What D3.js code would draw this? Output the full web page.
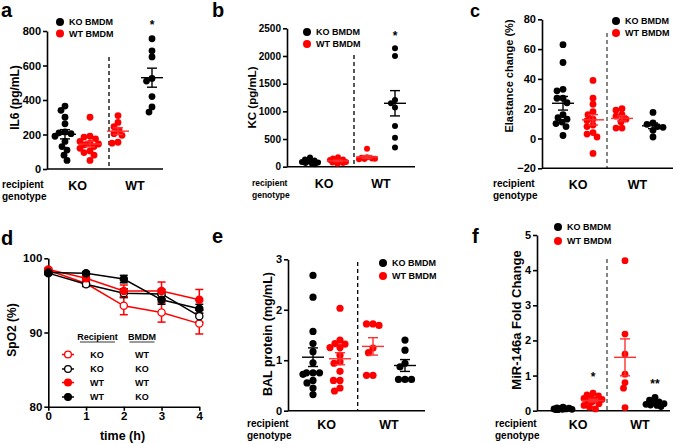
<!DOCTYPE html>
<html><head><meta charset="utf-8">
<script src="https://cdn.jsdelivr.net/npm/d3@7"></script>
<style>body{margin:0;background:#fff} svg text{font-family:"Liberation Sans",Arial,sans-serif;font-weight:bold;fill:#000}</style>
</head><body><svg id="c" width="676" height="444"></svg>
<script>
// ---------- DATA ----------
const groups = ["KO_KO", "KO_WT", "WT_WT", "WT_KO"]; // recipient_BMDM
const groupColors = ["black", "red", "red", "black"];
const recipientLabels = ["KO", "WT"];
const legendLabels = ["KO BMDM", "WT BMDM"];

// a: IL6 (pg/mL)
const il6_KO_KO = [365, 340, 300, 262, 215, 210, 205, 190, 160, 130, 110, 80, 50];
const il6_KO_WT = [300, 190, 185, 175, 160, 150, 145, 140, 130, 120, 105, 95, 80, 50];
const il6_WT_WT = [310, 270, 245, 225, 205, 195, 155, 150];
const il6_WT_KO = [755, 685, 650, 525, 510, 420, 360, 330];
const il6Ticks = [0, 200, 400, 600, 800];

// b: KC (pg/mL)
const kc_KO_KO = [165, 130, 110, 95, 85, 75, 65, 55, 45];
const kc_KO_WT = [170, 150, 130, 120, 105, 95, 85, 75, 65, 55];
const kc_WT_WT = [325, 170, 160, 150, 145, 140, 135];
const kc_WT_KO = [2140, 2000, 1205, 1145, 1070, 735, 525, 345];
const kcTicks = [0, 500, 1000, 1500, 2000, 2500];

// c: Elastance change (%)
const el_KO_KO = [63, 51, 33, 32, 27, 27, 24, 16, 14, 13, 11, 10, 8, 2];
const el_KO_WT = [39, 27, 23, 18, 16, 13, 12, 9, 8, 4, 3, 1, -10];
const el_WT_WT = [20, 19, 16, 15, 13, 11, 7, 7];
const el_WT_KO = [17.5, 10.5, 9.5, 8, 7.5, 5.5, 1];
const elTicks = [-20, 0, 20, 40, 60, 80];

// d: SpO2 (%) over time
const times = [0, 1, 2, 3, 4];
const spo2_KO_WT = [98.4, 96.6, 93.6, 92.7, 91.2];
const spo2_KO_WT_sem = [0.2, 0.3, 1.2, 1.3, 1.4];
const spo2_KO_KO = [98.0, 96.5, 95.3, 95.2, 92.2];
const spo2_KO_KO_sem = [0.2, 0.3, 0.6, 0.6, 0.8];
const spo2_WT_WT = [98.5, 97.3, 95.6, 95.6, 94.4];
const spo2_WT_WT_sem = [0.2, 0.3, 0.8, 1.2, 1.4];
const spo2_WT_KO = [98.1, 98.0, 97.2, 94.4, 93.2];
const spo2_WT_KO_sem = [0.2, 0.2, 0.5, 0.6, 0.6];
const spo2Ticks = [80, 90, 100];
const timeTicks = [0, 1, 2, 3, 4];
const dLegendRecipient = ["KO", "KO", "WT", "WT"];
const dLegendBMDM = ["WT", "KO", "WT", "KO"];

// e: BAL protein (mg/mL)
const bal_KO_KO = [2.68, 2.25, 1.57, 1.33, 1.17, 0.95, 0.75, 0.75, 0.75, 0.72, 0.6, 0.55, 0.45, 0.32];
const bal_KO_WT = [2.03, 1.4, 1.33, 1.32, 1.25, 1.25, 1.1, 0.97, 0.94, 0.78, 0.6, 0.6, 0.45, 0.39];
const bal_WT_WT = [1.72, 1.72, 1.69, 1.24, 1.15, 0.7, 0.7];
const bal_WT_KO = [1.4, 1.2, 0.94, 0.87, 0.62, 0.62, 0.62];
const balTicks = [0, 1, 2, 3];

// f: MiR-146a Fold Change
const mir_KO_KO = [0.1, 0.08, 0.07, 0.06, 0.05, 0.05, 0.04, 0.04, 0.03, 0.03];
const mir_KO_WT = [0.5, 0.45, 0.42, 0.38, 0.35, 0.32, 0.3, 0.28, 0.25, 0.2, 0.15, 0.1, 0.05];
const mir_WT_WT = [4.27, 2.18, 1.61, 1.04, 0.8, 0.64, 0.09];
const mir_WT_KO = [0.38, 0.3, 0.25, 0.22, 0.2, 0.18, 0.16, 0.15, 0.12];
const mirTicks = [0, 1, 2, 3, 4, 5];

// ---------- DRAW ----------
const RED = "#ff0000", BLK = "#000000";
const col = c => c === "red" ? RED : BLK;
const svg = d3.select("#c");

function semOf(a){ return d3.deviation(a) / Math.sqrt(a.length); }

function swarm(vals, y, r, maxOff){
  const pts = vals.map(v => ({v, py: y(v)})).sort((a,b) => a.py - b.py);
  const placed = [];
  const minD = 2 * r * 0.85;
  for (const p of pts){
    let best = null, bestScore = -1;
    for (let k = 0; ; k++){
      const off = (k % 2 === 0 ? 1 : -1) * Math.ceil(k/2) * 0.5;
      if (Math.abs(off) > maxOff) break;
      const dmin = placed.length ? d3.min(placed, q => Math.hypot(q.dx - off, q.py - p.py)) : Infinity;
      if (dmin >= minD){ best = off; break; }
      if (dmin > bestScore){ bestScore = dmin; best = off; }
    }
    p.dx = best; placed.push(p);
  }
  return placed;
}

function scatterPanel(o){
  const g = svg.append("g");
  const y = d3.scaleLinear().domain(o.domain).range([o.yBot, o.yTop]);
  const x = d3.scaleOrdinal().domain(groups).range(o.cols);
  const xr = d3.scaleOrdinal().domain(recipientLabels).range([(o.cols[0]+o.cols[1])/2, (o.cols[2]+o.cols[3])/2]);
  g.append("line").attr("x1", o.dashX).attr("x2", o.dashX).attr("y1", o.dashTop).attr("y2", o.yBase)
    .attr("stroke", o.dashColor || "#000").attr("stroke-width", 1.3).attr("stroke-dasharray", "4,3");
  const ax = g.append("g").attr("transform", `translate(${o.x0},0)`)
    .call(d3.axisLeft(y).tickValues(o.ticks).tickSize(4).tickSizeOuter(0).tickPadding(2).tickFormat(d3.format("d")));
  ax.selectAll("path,line").attr("stroke", "#000").attr("stroke-width", 1.6);
  ax.selectAll("text").style("font-size", o.tickFs + "px").style("font-family", '"Liberation Sans",Arial,sans-serif').style("font-weight", "bold").attr("fill", "#000");
  g.append("line").attr("x1", o.x0).attr("x2", o.x1).attr("y1", o.yBase).attr("y2", o.yBase).attr("stroke", "#000").attr("stroke-width", 1.6);
  g.append("text").attr("transform", `translate(${o.titleX},${o.titleY}) rotate(-90)`).attr("text-anchor", "middle")
    .style("font-size", o.titleFs + "px").text(o.title);
  o.data.forEach((vals, i) => {
    const c = col(groupColors[i]);
    const cx = x(groups[i]);
    const pts = swarm(vals, y, o.r, o.maxOff);
    g.selectAll(null).data(pts).enter().append("circle")
      .attr("cx", d => cx + d.dx).attr("cy", d => d.py).attr("r", o.r).attr("fill", c);
    const m = d3.mean(vals), s = semOf(vals);
    const lc = groupColors[i] === "red" ? "#ff3030" : "#000";
    g.append("line").attr("x1", cx - o.mw).attr("x2", cx + o.mw).attr("y1", y(m)).attr("y2", y(m)).attr("stroke", lc).attr("stroke-width", 1.4);
    g.append("line").attr("x1", cx).attr("x2", cx).attr("y1", y(m - s)).attr("y2", y(m + s)).attr("stroke", lc).attr("stroke-width", 1.4);
    [m - s, m + s].forEach(v => g.append("line").attr("x1", cx - o.cw).attr("x2", cx + o.cw).attr("y1", y(v)).attr("y2", y(v)).attr("stroke", lc).attr("stroke-width", 1.4));
  });
  recipientLabels.forEach(l => g.append("text").attr("x", xr(l)).attr("y", o.catY).attr("text-anchor", "middle").style("font-size", "12.5px").text(l));
  g.append("text").attr("x", o.recX).attr("y", o.catY - 2).style("font-size", o.recFs + "px").text("recipient");
  g.append("text").attr("x", o.recX).attr("y", o.catY + 10).style("font-size", o.recFs + "px").text("genotype");
  legendLabels.forEach((l, i) => {
    const ly = o.legY + i * o.legDy;
    g.append("circle").attr("cx", o.legX).attr("cy", ly).attr("r", 4).attr("fill", i === 0 ? BLK : RED);
    g.append("text").attr("x", o.legX + 9).attr("y", ly + 3.3).style("font-size", "9px").text(l);
  });
  (o.stars || []).forEach(s => g.append("text").attr("x", x(s.g)).attr("y", s.y).attr("text-anchor", "middle").style("font-size", "12px").text(s.t));
  g.append("text").attr("x", o.letterX).attr("y", o.letterY).style("font-size", (o.letterFs || 20) + "px").text(o.letter);
}

scatterPanel({letter:"a", letterX:1, letterY:17, domain:[0,800], ticks:il6Ticks, x0:47, x1:163, yTop:31, yBot:169, yBase:169,
  cols:[65,90,118,152], dashX:109, dashTop:57, data:[il6_KO_KO, il6_KO_WT, il6_WT_WT, il6_WT_KO], r:3.4, mw:11, cw:5, maxOff:10,
  tickFs:11, title:"IL6 (pg/mL)", titleFs:12, titleX:19, titleY:97.5, catY:190, recX:2, recFs:10,
  legX:60, legY:22, legDy:11.5, stars:[{g:"WT_KO", y:29, t:"*"}]});

scatterPanel({letter:"b", letterX:212, letterY:17, domain:[0,2500], ticks:kcTicks, x0:287, x1:415, yTop:28.3, yBot:166.7, yBase:166.7,
  cols:[310,338,367,395], dashX:354, dashTop:55, data:[kc_KO_KO, kc_KO_WT, kc_WT_WT, kc_WT_KO], r:3, mw:11, cw:5, maxOff:8,
  tickFs:10, title:"KC (pg/mL)", titleFs:11.5, titleX:256, titleY:97.5, catY:188, recX:252, recFs:8.5,
  legX:307, legY:32, legDy:12, stars:[{g:"WT_KO", y:40, t:"*"}]});

scatterPanel({letter:"c", letterX:470, letterY:17, letterFs:18, domain:[-20,80], ticks:elTicks, x0:542, x1:673, yTop:19.3, yBot:168.3, yBase:168.3,
  cols:[563,593,622,653], dashX:607, dashTop:33, dashColor:"#444", data:[el_KO_KO, el_KO_WT, el_WT_WT, el_WT_KO], r:3.4, mw:11, cw:5, maxOff:10,
  tickFs:11, title:"Elastance change (%)", titleFs:11, titleX:513, titleY:76, catY:189, recX:493, recFs:10,
  legX:616, legY:21, legDy:12});

scatterPanel({letter:"e", letterX:212, letterY:243, domain:[0,3], ticks:balTicks, x0:288, x1:425, yTop:259.3, yBot:410.7, yBase:410.7,
  cols:[313,340,373,405], dashX:357.7, dashTop:262, data:[bal_KO_KO, bal_KO_WT, bal_WT_WT, bal_WT_KO], r:3.6, mw:11, cw:5, maxOff:10,
  tickFs:11, title:"BAL protein (mg/mL)", titleFs:12.5, titleX:272, titleY:334, catY:429, recX:247, recFs:10,
  legX:383, legY:263, legDy:13});

scatterPanel({letter:"f", letterX:472, letterY:243, domain:[0,5], ticks:mirTicks, x0:537, x1:670, yTop:235, yBot:410.7, yBase:410.7,
  cols:[563,593,625,655], dashX:607, dashTop:259, dashColor:"#444", data:[mir_KO_KO, mir_KO_WT, mir_WT_WT, mir_WT_KO], r:3.4, mw:11, cw:5, maxOff:9,
  tickFs:11, title:"MiR-146a Fold Change", titleFs:13, titleX:521, titleY:320, catY:429, recX:495, recFs:10,
  legX:558, legY:227, legDy:14, stars:[{g:"KO_WT", y:381, t:"*"}, {g:"WT_KO", y:388, t:"**"}]});

// ---------- panel d ----------
(function(){
  const g = svg.append("g");
  const x = d3.scaleLinear().domain([0,4]).range([48.3,199.3]);
  const y = d3.scaleLinear().domain([80,100]).range([406.7,258.3]);
  const series = [
    {v:spo2_KO_WT, s:spo2_KO_WT_sem, c:RED, open:true},
    {v:spo2_KO_KO, s:spo2_KO_KO_sem, c:BLK, open:true},
    {v:spo2_WT_WT, s:spo2_WT_WT_sem, c:RED, open:false},
    {v:spo2_WT_KO, s:spo2_WT_KO_sem, c:BLK, open:false}
  ];
  const ax = g.append("g").attr("transform", "translate(48.3,0)")
    .call(d3.axisLeft(y).tickValues(spo2Ticks).tickSize(4).tickSizeOuter(0).tickPadding(2).tickFormat(d3.format("d")));
  const bx = g.append("g").attr("transform", "translate(0,406.7)")
    .call(d3.axisBottom(x).tickValues(timeTicks).tickSize(4).tickSizeOuter(0).tickPadding(1).tickFormat(d3.format("d")));
  [ax, bx].forEach(a => {
    a.selectAll("path,line").attr("stroke", "#000").attr("stroke-width", 1.6);
    a.selectAll("text").style("font-size", "11.5px").style("font-family", '"Liberation Sans",Arial,sans-serif').style("font-weight", "bold").attr("fill", "#000");
  });
  g.append("text").attr("transform", "translate(16,330) rotate(-90)").attr("text-anchor", "middle").style("font-size", "12px").text("SpO2 (%)");
  g.append("text").attr("x", 122.5).attr("y", 440).attr("text-anchor", "middle").style("font-size", "12.5px").text("time (h)");
  const line = d3.line().x((d, i) => x(times[i])).y(d => y(d));
  series.forEach(s => {
    g.append("path").attr("d", line(s.v)).attr("fill", "none").attr("stroke", s.c).attr("stroke-width", 1.5);
  });
  series.forEach(s => {
    s.v.forEach((v, i) => {
      const cx = x(times[i]);
      g.append("line").attr("x1", cx).attr("x2", cx).attr("y1", y(v - s.s[i])).attr("y2", y(v + s.s[i])).attr("stroke", s.c).attr("stroke-width", 1.5);
      [v - s.s[i], v + s.s[i]].forEach(e => g.append("line").attr("x1", cx - 4).attr("x2", cx + 4).attr("y1", y(e)).attr("y2", y(e)).attr("stroke", s.c).attr("stroke-width", 1.5));
    });
  });
  series.forEach(s => {
    g.selectAll(null).data(s.v).enter().append("circle")
      .attr("cx", (d, i) => x(times[i])).attr("cy", d => y(d)).attr("r", 3.6)
      .attr("fill", s.open ? "#fff" : s.c).attr("stroke", s.c).attr("stroke-width", 1.3);
  });
  g.append("text").attr("x", 97.5).attr("y", 340).attr("text-anchor", "middle").style("font-size", "9px").text("Recipient");
  g.append("line").attr("x1", 80).attr("x2", 115).attr("y1", 342).attr("y2", 342).attr("stroke", "#000").attr("stroke-width", 0.8);
  g.append("text").attr("x", 142).attr("y", 340).attr("text-anchor", "middle").style("font-size", "9px").text("BMDM");
  g.append("line").attr("x1", 129.5).attr("x2", 154.5).attr("y1", 342).attr("y2", 342).attr("stroke", "#000").attr("stroke-width", 0.8);
  const rows = [354.5, 369, 382.5, 397];
  series.forEach((s, i) => {
    const ly = rows[i];
    g.append("line").attr("x1", 62).attr("x2", 74).attr("y1", ly).attr("y2", ly).attr("stroke", s.c).attr("stroke-width", 1.5);
    g.append("circle").attr("cx", 68).attr("cy", ly).attr("r", 3.4).attr("fill", s.open ? "#fff" : s.c).attr("stroke", s.c).attr("stroke-width", 1.3);
    g.append("text").attr("x", 97).attr("y", ly + 3.3).attr("text-anchor", "middle").style("font-size", "9px").text(dLegendRecipient[i]);
    g.append("text").attr("x", 142).attr("y", ly + 3.3).attr("text-anchor", "middle").style("font-size", "9px").text(dLegendBMDM[i]);
  });
  g.append("text").attr("x", 1).attr("y", 245).style("font-size", "20px").text("d");
})();
</script>
</body></html>
